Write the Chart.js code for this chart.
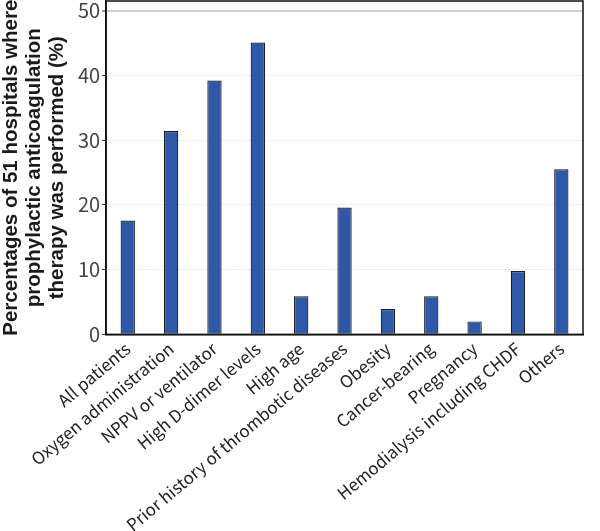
<!DOCTYPE html>
<html>
<head>
<meta charset="utf-8">
<style>
  body { margin: 0; background: #fff; }
  #wrap { width: 600px; height: 531px; position: relative; }
</style>
</head>
<body>
<div id="wrap"><canvas id="bar-canvas"></canvas></div>
<script src="https://cdn.jsdelivr.net/npm/chart.js@4.4.1/dist/chart.umd.min.js"></script>
<script>
  // Categories and values (% of 51 hospitals)
  let categories = [
    "All patients",
    "Oxygen administration",
    "NPPV or ventilator",
    "High D-dimer levels",
    "High age",
    "Prior history of thrombotic diseases",
    "Obesity",
    "Cancer-bearing",
    "Pregnancy",
    "Hemodialysis including CHDF",
    "Others"
  ];
  let percentages = [17.6, 31.4, 39.2, 45.1, 5.9, 19.6, 3.9, 5.9, 2.0, 9.8, 25.5];
  let y_ticks = [0, 10, 20, 30, 40, 50];
  let y_title = [
    "Percentages of 51 hospitals where",
    "prophylactic anticoagulation",
    "therapy was performed (%)"
  ];

  // Box around the plot area
  let frame_plugin = {
    id: "frame",
    afterDraw(chart) {
      let ctx = chart.ctx;
      let a = chart.chartArea;
      ctx.save();
      ctx.strokeStyle = "#111";
      ctx.lineWidth = 1.5;
      ctx.strokeRect(a.left, a.top, a.right - a.left, a.bottom - a.top);
      ctx.restore();
    }
  };

  let bar_ctx = document.getElementById("bar-canvas").getContext("2d");
  let bar_chart = new Chart(bar_ctx, {
    type: "bar",
    data: {
      labels: categories,
      datasets: [{
        data: percentages,
        backgroundColor: "#2f58a8",
        borderColor: "#1a1a1a",
        borderWidth: 1.2,
        borderSkipped: "bottom",
        barPercentage: 0.33,
        categoryPercentage: 1.0
      }]
    },
    plugins: [frame_plugin],
    options: {
      responsive: true,
      maintainAspectRatio: false,
      animation: false,
      layout: { padding: { top: 1, right: 17, left: 0, bottom: 0 } },
      plugins: {
        legend: { display: false },
        tooltip: { enabled: false }
      },
      scales: {
        x: {
          grid: { display: false },
          border: { color: "#111", width: 1.5 },
          ticks: {
            maxRotation: 40,
            minRotation: 40,
            autoSkip: false,
            padding: -4,
            color: "#222",
            font: { family: "'Noto Sans CJK JP', 'Noto Sans'", size: 17 }
          }
        },
        y: {
          min: 0,
          max: 51.5,
          afterBuildTicks(scale) {
            scale.ticks = y_ticks.map(v => ({ value: v }));
          },
          afterFit(scale) {
            scale.paddingTop = 0;
          },
          grid: {
            color: ctx => ctx.tick && ctx.tick.value === 50 ? "#d0d0d0" : "#ececec",
            lineWidth: ctx => ctx.tick && ctx.tick.value === 50 ? 2 : 1,
            drawOnChartArea: true,
            tickLength: 4,
            tickColor: "#333",
            tickWidth: 1
          },
          border: { color: "#111", width: 1.5 },
          ticks: {
            padding: 2,
            color: "#444",
            font: { family: "'Noto Sans CJK JP', 'Noto Sans'", size: 20 }
          },
          title: {
            display: true,
            text: y_title,
            color: "#1a1a1a",
            padding: { top: 0, bottom: 7 },
            font: { family: "'Liberation Sans', Arial", size: 20.5, weight: "bold", lineHeight: 1.12 }
          }
        }
      }
    }
  });
</script>
</body>
</html>
